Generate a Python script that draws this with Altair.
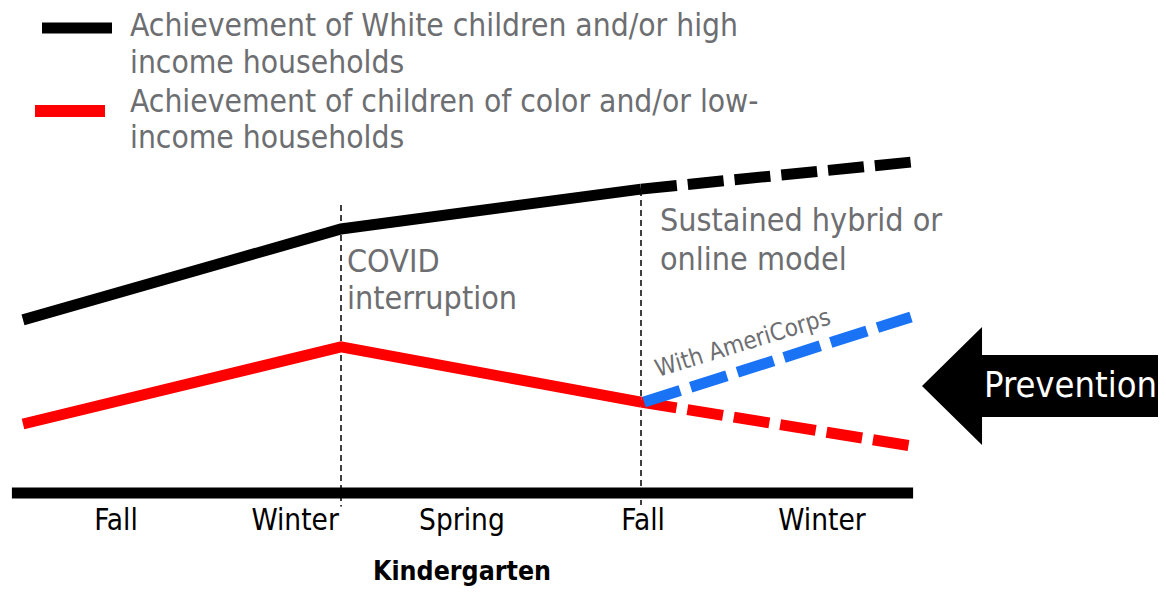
import altair as alt
import pandas as pd

# ---- data (time index along the x scale, achievement index on y) ----
t_solid = [0.0, 1.06, 2.06]
t_ext = [2.06, 2.96]
high_solid = [57.7, 88.0, 101.3]
high_ext = [101.3, 110.3]
low_solid = [23.0, 48.7, 30.3]
low_ext = [30.3, 15.7]
corps_t = [2.07, 2.96]
corps_vals = [30.3, 58.7]

tick_labels = ["Fall", "Winter", "Spring", "Fall", "Winter"]
tick_t = [0.31, 0.907, 1.463, 2.067, 2.663]
event_t = [1.06, 2.06]
event_top = [96.0, 101.0]
axis_start, axis_end = -0.037, 2.967

legend_high = ["Achievement of White children and/or high", "income households"]
legend_low = ["Achievement of children of color and/or low-", "income households"]
covid_text = ["COVID", "interruption"]
model_text = ["Sustained hybrid or", "online model"]
corps_label = "With AmeriCorps"
prevention_label = "Prevention"
axis_title = "Kindergarten"

FONT = "DejaVu Sans Condensed, DejaVu Sans"
GRAY = "#6d6e71"

xs = alt.Scale(domain=[-0.05, 3.7833], nice=False, zero=False)
ys = alt.Scale(domain=[-31, 161.667], nice=False, zero=False)


def X(f):
    return alt.X(f, type="quantitative", scale=xs, axis=None)


def Y(f):
    return alt.Y(f, type="quantitative", scale=ys, axis=None)


solid = pd.DataFrame({
    "t": t_solid * 2,
    "v": high_solid + low_solid,
    "s": ["high"] * 3 + ["low"] * 3,
})
ext = pd.DataFrame({
    "t": t_ext * 2,
    "v": high_ext + low_ext,
    "s": ["high"] * 2 + ["low"] * 2,
})
corps = pd.DataFrame({"t": corps_t, "v": corps_vals, "s": ["corps"] * 2})
color = alt.Color("s:N", scale=alt.Scale(domain=["high", "low", "corps"],
                                         range=["#000000", "#ff0000", "#1a73f5"]),
                  legend=None)

solid_layer = alt.Chart(solid).mark_line(strokeWidth=11, strokeCap="butt").encode(
    x=X("t"), y=Y("v"), color=color, detail="s:N")
ext_layer = alt.Chart(ext).mark_line(strokeWidth=11, strokeCap="butt",
                                      strokeDash=[36, 11]).encode(
    x=X("t"), y=Y("v"), color=color, detail="s:N")
corps_line = alt.Chart(corps).mark_line(strokeWidth=11, strokeCap="butt",
                                        strokeDash=[38, 11]).encode(
    x=X("t"), y=Y("v"), color=color)

events = pd.DataFrame({"t": event_t, "top": event_top, "bottom": [-4.5, -4.0]})
event_layer = alt.Chart(events).mark_rule(color="black", strokeWidth=1.5,
                                          strokeDash=[6, 4]).encode(
    x=X("t"), y=Y("top"), y2="bottom")

axis_df = pd.DataFrame({"a": [axis_start], "b": [axis_end], "y": [0]})
axis_layer = alt.Chart(axis_df).mark_rule(color="black", strokeWidth=11,
                                          strokeCap="butt").encode(
    x=X("a"), x2="b", y=Y("y"))

ticks = pd.DataFrame({"t": tick_t, "label": tick_labels})
tick_layer = alt.Chart(ticks).mark_text(font=FONT, fontSize=29.5, color="black",
                                        baseline="alphabetic").encode(
    x=X("t"), y=alt.value(522), text="label:N")

one = pd.DataFrame({"k": [0]})

title_layer = alt.Chart(one).mark_text(font=FONT, fontSize=26.5, fontWeight="bold",
                                       color="black", baseline="alphabetic",
                                       text=axis_title).encode(
    x=alt.value(454), y=alt.value(572))

leg_high_line = alt.Chart(one).mark_rule(color="black", strokeWidth=11,
                                         strokeCap="butt").encode(
    x=alt.value(34), x2=alt.value(104), y=alt.value(20))
leg_low_line = alt.Chart(one).mark_rule(color="#ff0000", strokeWidth=12,
                                        strokeCap="butt").encode(
    x=alt.value(27), x2=alt.value(97), y=alt.value(103))

leg_high_text = alt.Chart(one).mark_text(font=FONT, fontSize=31.5, color=GRAY,
                                         align="left", baseline="alphabetic",
                                         lineHeight=37, text=legend_high).encode(
    x=alt.value(122), y=alt.value(27.5))
leg_low_text = alt.Chart(one).mark_text(font=FONT, fontSize=31.5, color=GRAY,
                                        align="left", baseline="alphabetic",
                                        lineHeight=36, text=legend_low).encode(
    x=alt.value(122), y=alt.value(104))

covid_layer = alt.Chart(one).mark_text(font=FONT, fontSize=32, color=GRAY,
                                       align="left", baseline="middle",
                                       lineHeight=37, text=covid_text).encode(
    x=alt.value(339), y=alt.value(254))
model_layer = alt.Chart(one).mark_text(font=FONT, fontSize=32, color=GRAY,
                                       align="left", baseline="middle",
                                       lineHeight=39, text=model_text).encode(
    x=alt.value(652), y=alt.value(213))
corps_layer = alt.Chart(one).mark_text(font=FONT, fontSize=24, color=GRAY,
                                       align="left", baseline="alphabetic",
                                       angle=343, text=corps_label).encode(
    x=alt.value(650), y=alt.value(369))

arrow_path = ("M -1 0 L -0.508 -0.484 L -0.508 -0.254 L 1 -0.254 "
              "L 1 0.254 L -0.508 0.254 L -0.508 0.484 Z")
arrow_layer = alt.Chart(one).mark_point(shape=arrow_path, filled=True, size=244 * 244,
                                        color="black", opacity=1,
                                        strokeWidth=0).encode(
    x=alt.value(1036), y=alt.value(378))
prevention_layer = alt.Chart(one).mark_text(font=FONT, fontSize=36, color="white",
                                            align="left", baseline="middle",
                                            text=prevention_label).encode(
    x=alt.value(976), y=alt.value(378))

chart = alt.layer(
    event_layer, axis_layer, solid_layer, ext_layer, corps_line, tick_layer,
    title_layer, leg_high_line, leg_low_line, leg_high_text, leg_low_text,
    covid_layer, model_layer, corps_layer, arrow_layer, prevention_layer,
).properties(
    width=1150, height=578,
    autosize=alt.AutoSizeParams(type="none"),
    padding=0,
    background="white",
).configure_view(stroke=None)

chart.save("out.html", embed_options={"renderer": "svg", "actions": False})
